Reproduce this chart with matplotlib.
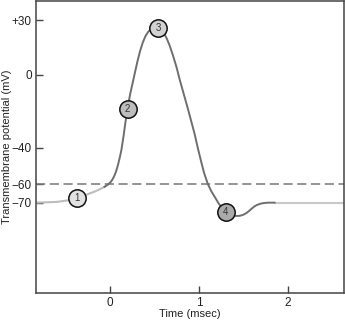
import matplotlib
matplotlib.use("Agg")
import matplotlib.pyplot as plt

plt.rcParams['font.family'] = ['Liberation Sans', 'DejaVu Sans']

# Curva del potencial de acción (t en ms, V en mV)
t_reposo = [-0.83, -0.6, -0.45, -0.37, -0.3, -0.23, -0.17, -0.12, -0.06]
v_reposo = [-70, -69.6, -68.6, -67.4, -66.3, -65.0, -63.9, -62.8, -61.3]

t_pico = [-0.06, -0.03, -0.01, 0.01, 0.03, 0.05, 0.07, 0.09, 0.11, 0.13,
          0.155, 0.176, 0.2, 0.23, 0.26, 0.28, 0.31, 0.34, 0.37, 0.40, 0.43,
          0.46, 0.49, 0.52, 0.55, 0.58, 0.60, 0.62, 0.64, 0.67, 0.71, 0.75,
          0.785, 0.83, 0.88, 0.95, 0.99, 1.03, 1.06, 1.10, 1.14, 1.18, 1.22,
          1.26, 1.30, 1.34, 1.38, 1.42, 1.46, 1.50, 1.53, 1.56, 1.59, 1.62,
          1.65, 1.69, 1.73, 1.78, 1.85]
v_pico = [-61.3, -60.4, -59.6, -58.6, -57.2, -55.3, -52.8, -49.5, -45.5, -41.0,
          -33.0, -25.5, -17.5, -10.0, -3.5, 1.0, 7.5, 13.2, 17.8, 21.3, 23.6,
          25.0, 25.9, 26.2, 25.9, 24.8, 23.6, 21.8, 19.8, 16.3, 10.5, 4.0,
          -2.7, -10.5, -19.2, -32.0, -40.5, -48.4, -54.0, -59.7, -63.8, -67.0,
          -70.3, -73.0, -75.0, -76.3, -77.0, -77.3, -77.2, -76.6, -75.8, -74.7,
          -73.4, -72.2, -71.3, -70.6, -70.2, -70.0, -70.0]

t_final = [1.85, 2.63]
v_final = [-70, -70]

# Círculos numerados sobre la curva
t_circulos = [-0.37, 0.2, 0.54, 1.3]
v_circulos = [-67.4, -18.5, 25.8, -75.0]
etiquetas_circulos = ["1", "2", "3", "4"]
colores_circulos = ["#e2e2e2", "#bdbdbd", "#d2d2d2", "#ababab"]

umbral = -60
ticks_y = [30, 0, -40, -60, -70]
etiquetas_y = ["+30", "0", "\u221240", "\u221260", "\u221270"]
ticks_x = [0, 1, 2]


def main():
    fig = plt.figure(figsize=(3.45, 3.22), dpi=100)
    ax = fig.add_axes([36 / 345, 1 - 293 / 322, 308 / 345, 292 / 322])

    ax.axhline(umbral, color="#777777", lw=1.1, dashes=(6, 3))

    ax.plot(t_reposo, v_reposo, color="#bdbdbd", lw=1.5, solid_capstyle="round")
    ax.plot(t_final, v_final, color="#c8c8c8", lw=1.5)
    ax.plot(t_pico, v_pico, color="#6e6e6e", lw=1.4, solid_joinstyle="round")

    for t, v, etiqueta, color in zip(t_circulos, v_circulos, etiquetas_circulos, colores_circulos):
        ax.plot(t, v, "o", ms=12.5, mfc=color, mec="#111111", mew=1.1, zorder=5)
        ax.text(t, v, etiqueta, ha="center", va="center", fontsize=7,
                color="#333333", zorder=6)

    ax.set_xlim(-0.83, 2.63)
    ax.set_ylim(-119.5, 40.5)
    ax.set_yticks(ticks_y)
    ax.set_yticklabels(etiquetas_y)
    ax.set_xticks(ticks_x)
    ax.tick_params(direction="in", length=5, width=1, color="#444444",
                   labelsize=8.5, labelcolor="#222222", pad=3)

    for lado in ax.spines.values():
        lado.set_color("#444444")
        lado.set_linewidth(1.1)

    ax.set_xlabel("Time (msec)", fontsize=8, color="#222222")
    ax.xaxis.set_label_coords(0.5, -0.054)
    ax.set_ylabel("Transmembrane potential (mV)", fontsize=8, color="#222222")
    ax.yaxis.set_label_coords(-0.078, 0.5)

    fig.savefig("out.png", dpi=100)
    plt.close(fig)


if __name__ == "__main__":
    main()
